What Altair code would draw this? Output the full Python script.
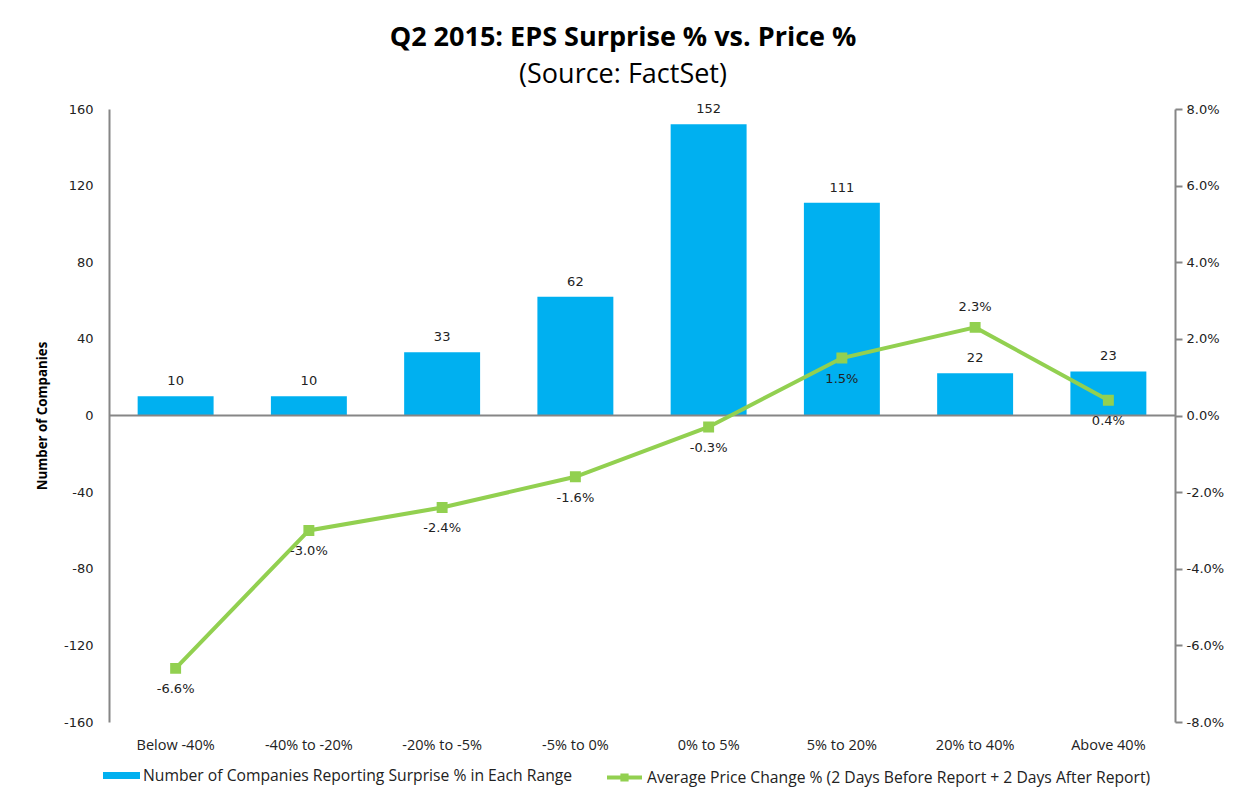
import altair as alt
import pandas as pd

categories = ["Below -40%", "-40% to -20%", "-20% to -5%", "-5% to 0%",
              "0% to 5%", "5% to 20%", "20% to 40%", "Above 40%"]
company_counts = [10, 10, 33, 62, 152, 111, 22, 23]
price_change_pct = [-6.6, -3.0, -2.4, -1.6, -0.3, 1.5, 2.3, 0.4]
left_ticks = [-160, -120, -80, -40, 0, 40, 80, 120, 160]
right_ticks = [-8, -6, -4, -2, 0, 2, 4, 6, 8]

bar_name = "Number of Companies Reporting Surprise % in Each Range"
line_name = "Average Price Change % (2 Days Before Report + 2 Days After Report)"

df = pd.DataFrame({
    "category": categories,
    "count": company_counts,
    "price": price_change_pct,
    "bar_series": bar_name,
    "line_series": line_name,
})

W, H = 1066, 613
BLUE = "#00B0F0"
GREEN = "#92D050"
GRAY = "#868686"
TXT = "#222222"
NUM_FONT = "DejaVu Sans"
CAL_FONT = "Open Sans"

x_enc = alt.X("category:N", sort=categories,
              scale=alt.Scale(paddingInner=0.43, paddingOuter=0.215),
              axis=alt.Axis(title=None, domain=False, ticks=False, grid=False, labelAngle=0,
                            labelFont=CAL_FONT, labelFontSize=14.5, labelColor=TXT,
                            labelPadding=16, orient="bottom"))

y_left = alt.Y("count:Q", scale=alt.Scale(domain=[-160, 160], nice=False),
               axis=alt.Axis(title="Number of Companies", values=left_ticks,
                             labelExpr="toString(datum.value)",
                             grid=False, ticks=False, domainColor=GRAY, domainWidth=2,
                             labelFont=NUM_FONT, labelFontSize=13, labelColor=TXT,
                             labelPadding=16, titleFont=CAL_FONT, titleFontSize=13.3,
                             titleFontWeight="bold", titleColor="#000000", titlePadding=14))

base = alt.Chart(df)

bars = base.mark_bar(color=BLUE).encode(
    x=x_enc,
    y=y_left,
    fill=alt.Fill("bar_series:N",
                  scale=alt.Scale(domain=[bar_name], range=[BLUE]),
                  legend=alt.Legend(title=None, orient="none", legendX=-6, legendY=648,
                                    symbolType="M-1,-0.19H1V0.19H-1Z", symbolSize=1369,
                                    symbolStrokeWidth=0, labelFont=CAL_FONT,
                                    labelFontSize=15.7, labelColor=TXT, labelLimit=600,
                                    labelOffset=3, padding=0)),
)

bar_labels = base.mark_text(baseline="bottom", dy=-8, font=NUM_FONT, fontSize=13,
                            color=TXT).encode(
    x=alt.X("category:N", sort=categories),
    y=alt.Y("count:Q"),
    text=alt.Text("count:Q"),
)

zero_rule = alt.Chart(pd.DataFrame({"zero": [0]})).mark_rule(color=GRAY, strokeWidth=2).encode(
    y=alt.Y("zero:Q"),
)

bar_layer = alt.layer(bars, bar_labels, zero_rule)

y_right = alt.Y("price:Q", scale=alt.Scale(domain=[-8, 8], nice=False),
                axis=alt.Axis(title=None, orient="right", values=right_ticks,
                              labelExpr="(datum.value < 0 ? '-' : '') + format(abs(datum.value), '.1f') + '%'",
                              grid=False, ticks=True, tickSize=7, tickColor=GRAY,
                              tickWidth=2, domainColor=GRAY, domainWidth=2,
                              labelFont=NUM_FONT, labelFontSize=13, labelColor=TXT,
                              labelPadding=4))

line = base.mark_line(strokeWidth=4, point=alt.OverlayMarkDef(
    shape="square", size=80, filled=True, color=GREEN)).encode(
    x=alt.X("category:N", sort=categories),
    y=y_right,
    stroke=alt.Stroke("line_series:N",
                      scale=alt.Scale(domain=[line_name], range=[GREEN]),
                      legend=alt.Legend(title=None, orient="none", legendX=496, legendY=649,
                                        symbolType="M-1,0H1M-0.12,-0.12H0.12V0.12H-0.12Z",
                                        symbolSize=1225, symbolStrokeWidth=4,
                                        symbolFillColor=GREEN,
                                        labelFont=CAL_FONT, labelFontSize=15.7,
                                        labelColor=TXT, labelLimit=700, labelOffset=3,
                                        padding=0)),
)

line_base = base.transform_calculate(
    label="(datum.price < 0 ? '-' : '') + format(abs(datum.price), '.1f') + '%'"
)

line_labels_below = line_base.transform_filter(
    "datum.category != '20% to 40%'"
).mark_text(baseline="middle", dy=21, font=NUM_FONT, fontSize=13, color=TXT).encode(
    x=alt.X("category:N", sort=categories),
    y=alt.Y("price:Q"),
    text=alt.Text("label:N"),
)

line_labels_above = line_base.transform_filter(
    "datum.category == '20% to 40%'"
).mark_text(baseline="middle", dy=-20, font=NUM_FONT, fontSize=13, color=TXT).encode(
    x=alt.X("category:N", sort=categories),
    y=alt.Y("price:Q"),
    text=alt.Text("label:N"),
)

line_layer = alt.layer(line, line_labels_below, line_labels_above)

chart = alt.layer(bar_layer, line_layer).resolve_scale(
    y="independent", fill="independent", stroke="independent"
).properties(
    width=W, height=H,
    autosize=alt.AutoSizeParams(type="none"),
    padding={"left": 101, "top": 101, "right": 55, "bottom": 68},
    view=alt.ViewBackground(stroke="transparent", strokeWidth=0),
    title=alt.Title(
        "Q2 2015: EPS Surprise % vs. Price %",
        subtitle="(Source: FactSet)",
        font=CAL_FONT, fontSize=27, fontWeight="bold", color="#000000",
        subtitleFont=CAL_FONT, subtitleFontSize=27, subtitleColor="#000000",
        subtitlePadding=10, anchor="middle", offset=14, dx=-19,
    ),
).configure_view(strokeWidth=0, stroke="transparent").configure_axis(
    grid=False
).configure(background="white")

chart.save("out.html", embed_options={"renderer": "svg", "actions": False})
